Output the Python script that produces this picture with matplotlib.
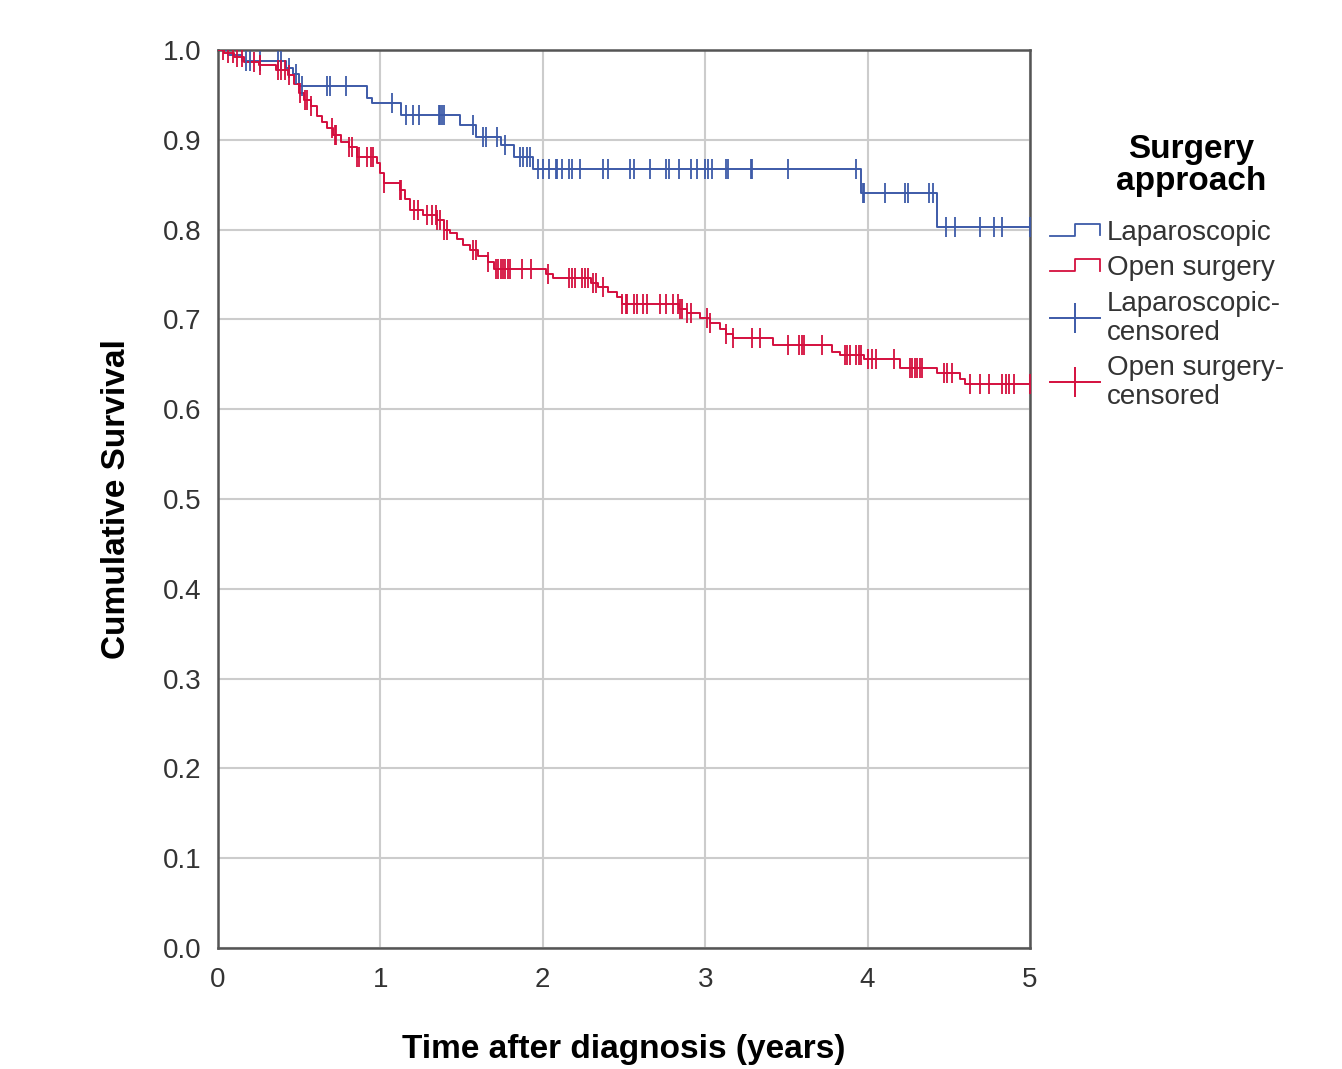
import numpy as np
import matplotlib
matplotlib.use("Agg")
import matplotlib.pyplot as plt
from matplotlib.lines import Line2D
from matplotlib.legend_handler import HandlerBase

plt.rcParams['font.family'] = ['Liberation Sans', 'DejaVu Sans']

## Kaplan-Meier steps
lap_times = [0, 0.06, 0.15, 0.42, 0.46, 0.50, 0.92, 0.95, 1.13, 1.49, 1.59,
             1.74, 1.82, 1.94, 3.96, 4.43]
lap_surv = [1.0, 0.994, 0.988, 0.980, 0.973, 0.960, 0.947, 0.941, 0.928, 0.916,
            0.903, 0.894, 0.881, 0.867, 0.841, 0.803]
lap_cens = [0.17, 0.20, 0.26, 0.37, 0.39, 0.44, 0.48, 0.52, 0.67, 0.69, 0.79,
            1.07, 1.16, 1.20, 1.24, 1.36, 1.37, 1.38, 1.39, 1.57, 1.63, 1.65,
            1.72, 1.77, 1.86, 1.88, 1.90, 1.92, 1.97, 2.00, 2.04, 2.08, 2.09,
            2.12, 2.16, 2.18, 2.23, 2.37, 2.40, 2.54, 2.56, 2.66, 2.76, 2.78,
            2.84, 2.91, 2.95, 3.00, 3.02, 3.04, 3.13, 3.14, 3.28, 3.29, 3.51,
            3.93, 3.97, 3.98, 4.11, 4.23, 4.25, 4.38, 4.40, 4.48, 4.54, 4.69,
            4.78, 4.83, 5.00]

open_times = [0, 0.04, 0.10, 0.16, 0.25, 0.36, 0.43, 0.47, 0.50, 0.53, 0.57,
              0.61, 0.64, 0.67, 0.71, 0.76, 0.81, 0.855, 0.98, 1.00, 1.02, 1.12,
              1.15, 1.18, 1.26, 1.35, 1.39, 1.43, 1.47, 1.51, 1.55, 1.60, 1.66,
              1.70, 2.02, 2.06, 2.30, 2.34, 2.40, 2.46, 2.49, 2.84, 2.89, 2.97,
              3.03, 3.09, 3.13, 3.17, 3.42, 3.78, 3.83, 3.98, 4.20, 4.43, 4.57,
              4.60]
open_surv = [1.0, 0.997, 0.992, 0.987, 0.983, 0.978, 0.972, 0.962, 0.952, 0.944,
             0.938, 0.927, 0.920, 0.913, 0.905, 0.898, 0.892, 0.881, 0.874,
             0.863, 0.852, 0.844, 0.834, 0.822, 0.816, 0.811, 0.800, 0.796,
             0.790, 0.783, 0.777, 0.771, 0.764, 0.756, 0.751, 0.746, 0.740,
             0.736, 0.731, 0.725, 0.717, 0.712, 0.707, 0.702, 0.696, 0.689,
             0.684, 0.679, 0.671, 0.664, 0.660, 0.656, 0.646, 0.640, 0.634,
             0.628]
open_cens = [0.03, 0.06, 0.09, 0.12, 0.15, 0.22, 0.26, 0.37, 0.39, 0.41, 0.44,
             0.505, 0.535, 0.55, 0.57, 0.70, 0.72, 0.73, 0.81, 0.825, 0.855,
             0.87, 0.92, 0.94, 0.955, 1.02, 1.12, 1.13, 1.21, 1.23, 1.29, 1.32,
             1.34, 1.35, 1.37, 1.39, 1.41, 1.57, 1.59, 1.66, 1.71, 1.725, 1.74,
             1.755, 1.77, 1.785, 1.80, 1.87, 1.93, 2.03, 2.16, 2.18,
             2.20, 2.24, 2.26, 2.28, 2.31, 2.33, 2.37, 2.49, 2.51, 2.52, 2.56,
             2.58, 2.62, 2.64, 2.72, 2.76, 2.80, 2.83, 2.845, 2.86, 2.89,
             2.91, 3.01, 3.03, 3.13, 3.17, 3.29, 3.34, 3.51, 3.58, 3.595,
             3.61, 3.72, 3.86, 3.875, 3.89, 3.93, 3.945, 3.96, 4.00, 4.03,
             4.05, 4.16, 4.26, 4.275, 4.29, 4.305, 4.32, 4.335, 4.47,
             4.49, 4.52, 4.63, 4.69, 4.75, 4.83, 4.85, 4.87, 4.90, 5.00]

groups = ["Laparoscopic", "Open surgery"]
colors = ["#3d5aa8", "#d40f3e"]
x_ticks = [0, 1, 2, 3, 4, 5]
y_ticks = [0.0, 0.1, 0.2, 0.3, 0.4, 0.5, 0.6, 0.7, 0.8, 0.9, 1.0]


def surv_at(times, surv, t):
    idx = np.searchsorted(times, t, side='right') - 1
    return np.array(surv)[idx]


class StepHandler(HandlerBase):
    def create_artists(self, legend, orig_handle, xdescent, ydescent,
                       width, height, fontsize, trans):
        xs = np.array([0, 0.5, 0.5, 1.0, 1.0]) * width - xdescent
        ys = np.array([0.2, 0.2, 0.85, 0.85, 0.25]) * height - ydescent
        ln = Line2D(xs, ys, color=orig_handle.get_color(), lw=1.3)
        ln.set_transform(trans)
        return [ln]


fig = plt.figure(figsize=(13.42, 10.69), dpi=100)
ax = fig.add_axes([0.1624, 0.1132, 0.6051, 0.8400])

series = [(lap_times, lap_surv, lap_cens), (open_times, open_surv, open_cens)]
step_handles = []
cens_handles = []
for (tt, ss, cc), col, name in zip(series, colors, groups):
    t_end = max(cc)
    xs = list(tt) + [t_end]
    ys = list(ss) + [ss[-1]]
    h, = ax.step(xs, ys, where='post', color=col, lw=1.4, zorder=3)
    step_handles.append(h)
    cy = surv_at(tt, ss, cc)
    ax.plot(cc, cy, ls='none', marker='|', ms=14, mew=1.3, color=col,
            zorder=4)
    cens_handles.append(Line2D([], [], color=col, lw=1.4, marker='|', ms=22,
                               mew=1.4))

ax.set_xlim(0, 5)
ax.set_ylim(0, 1)
ax.set_xticks(x_ticks)
ax.set_yticks(y_ticks)
ax.set_xticklabels([str(v) for v in x_ticks])
ax.set_yticklabels(["%.1f" % v for v in y_ticks])
ax.grid(True, color='#cccccc', lw=1.5)
ax.set_axisbelow(True)
ax.tick_params(length=0, labelsize=20, labelcolor='#333333')
ax.tick_params(axis='y', pad=12)
ax.tick_params(axis='x', pad=14)
for sp in ax.spines.values():
    sp.set_color('#555555')
    sp.set_linewidth(1.8)

ax.set_xlabel("Time after diagnosis (years)", fontsize=24, fontweight='bold',
              labelpad=29)
ax.set_ylabel("Cumulative Survival", fontsize=24, fontweight='bold',
              labelpad=22)

fig.text(0.8875, 0.845, "Surgery\napproach", ha='center', va='center',
         fontsize=24, fontweight='bold', linespacing=1.05)

handles = step_handles + cens_handles
labels = ["Laparoscopic", "Open surgery", "Laparoscopic-\ncensored",
          "Open surgery-\ncensored"]
leg = fig.legend(handles, labels, loc='upper left',
                 bbox_to_anchor=(0.7824, 0.794), frameon=False, fontsize=20,
                 handlelength=1.8, handletextpad=0.25, labelspacing=0.33,
                 borderpad=0, borderaxespad=0,
                 handler_map={h: StepHandler() for h in step_handles})
for t in leg.get_texts():
    t.set_color('#333333')
    t.set_linespacing(1.15)

fig.savefig("out.png", dpi=100)
